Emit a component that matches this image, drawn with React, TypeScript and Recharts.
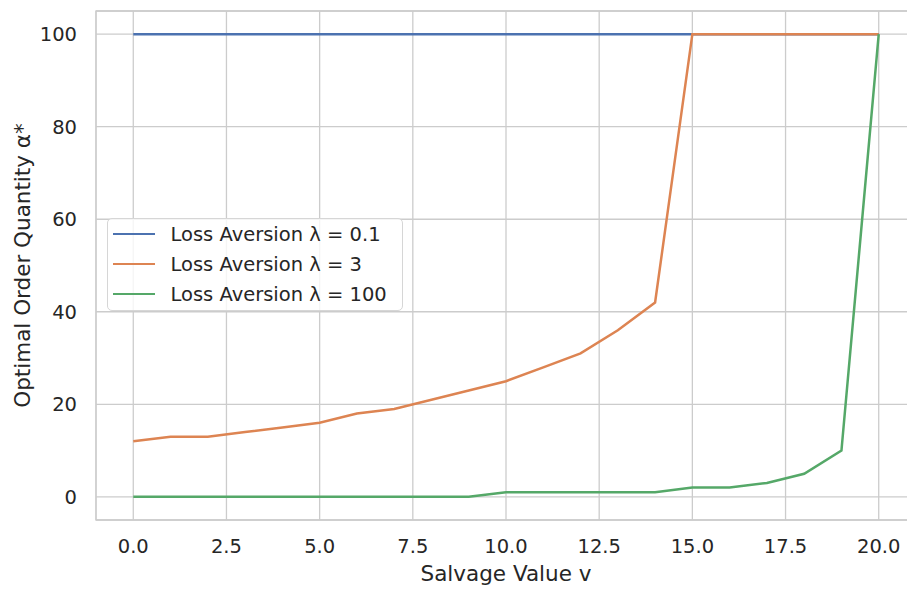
import React from 'react';
import { LineChart, Line, XAxis, YAxis, CartesianGrid, Legend, ReferenceArea, Label } from 'recharts';

// salvage value v on the x axis
const salvageValues = [0, 1, 2, 3, 4, 5, 6, 7, 8, 9, 10, 11, 12, 13, 14, 15, 16, 17, 18, 19, 20];

// optimal order quantity for each loss aversion level
const orderLambdaLow = [100, 100, 100, 100, 100, 100, 100, 100, 100, 100, 100, 100, 100, 100, 100, 100, 100, 100, 100, 100, 100];
const orderLambdaMid = [12, 13, 13, 14, 15, 16, 18, 19, 21, 23, 25, 28, 31, 36, 42, 100, 100, 100, 100, 100, 100];
const orderLambdaHigh = [0, 0, 0, 0, 0, 0, 0, 0, 0, 0, 1, 1, 1, 1, 1, 2, 2, 3, 5, 10, 100];

const xTicks = [0, 2.5, 5, 7.5, 10, 12.5, 15, 17.5, 20];
const yTicks = [0, 20, 40, 60, 80, 100];

const series = [
  { key: 'low', name: 'Loss Aversion λ = 0.1', color: '#4c72b0' },
  { key: 'mid', name: 'Loss Aversion λ = 3', color: '#dd8452' },
  { key: 'high', name: 'Loss Aversion λ = 100', color: '#55a868' },
];

const data = salvageValues.map((v, i) => ({
  v,
  low: orderLambdaLow[i],
  mid: orderLambdaMid[i],
  high: orderLambdaHigh[i],
}));

const TEXT = '#262626';
const GRID = '#cccccc';

const LegendBox = () => (
  <div
    style={{
      boxSizing: 'border-box',
      width: 296,
      border: '1.3px solid #d6d6d6',
      borderRadius: 5,
      background: 'rgba(255,255,255,0.8)',
      padding: '0 0 1px 0',
    }}
  >
    {series.map(s => (
      <div key={s.key} style={{ display: 'flex', alignItems: 'center', height: 30 }}>
        <span style={{ display: 'inline-block', width: 42, height: 2.5, background: s.color, marginLeft: 5.3, marginRight: 15.7 }} />
        <span style={{ fontSize: 19.5, color: TEXT, whiteSpace: 'nowrap' }}>{s.name}</span>
      </div>
    ))}
  </div>
);

const XTitle = ({ viewBox }: any) => (
  <text x={viewBox.x + viewBox.width / 2} y={581} textAnchor="middle" fill={TEXT} fontSize={21.5}>
    Salvage Value v
  </text>
);

const YTitle = ({ viewBox }: any) => (
  <text
    transform={`translate(29.5, ${viewBox.y + viewBox.height / 2}) rotate(-90)`}
    textAnchor="middle"
    fill={TEXT}
    fontSize={21.5}
  >
    Optimal Order Quantity α*
  </text>
);

export default function App() {
  return (
    <div
      style={{
        position: 'fixed',
        left: 0,
        top: 0,
        width: 907,
        height: 590,
        overflow: 'hidden',
        background: '#fff',
        fontFamily: '"DejaVu Sans", sans-serif',
      }}
    >
      <LineChart width={920} height={590} data={data} margin={{ top: 11, right: 4, bottom: 30, left: 36 }}>
        <CartesianGrid stroke={GRID} strokeWidth={1.3} />
        <ReferenceArea x1={-1} x2={21} y1={-5} y2={105} fill="none" stroke={GRID} strokeWidth={1.3} />
        <XAxis
          type="number"
          dataKey="v"
          domain={[-1, 21]}
          ticks={xTicks}
          interval={0}
          tickFormatter={(v: number) => v.toFixed(1)}
          tick={{ fill: TEXT, fontSize: 19.5 }}
          tickLine={false}
          axisLine={false}
          tickSize={0}
          tickMargin={19}
          height={40}
        >
          <Label content={XTitle} />
        </XAxis>
        <YAxis
          type="number"
          domain={[-5, 105]}
          ticks={yTicks}
          interval={0}
          tick={{ fill: TEXT, fontSize: 19.5 }}
          tickLine={false}
          axisLine={false}
          tickSize={0}
          tickMargin={19}
          width={60}
        >
          <Label content={YTitle} />
        </YAxis>
        <Legend
          layout="vertical"
          align="center"
          verticalAlign="middle"
          wrapperStyle={{ left: 106.5, top: 218, width: 296 }}
          content={LegendBox}
        />
        {series.map(s => (
          <Line
            key={s.key}
            type="linear"
            dataKey={s.key}
            name={s.name}
            stroke={s.color}
            strokeWidth={2.5}
            dot={false}
            activeDot={false}
            isAnimationActive={false}
          />
        ))}
      </LineChart>
    </div>
  );
}
